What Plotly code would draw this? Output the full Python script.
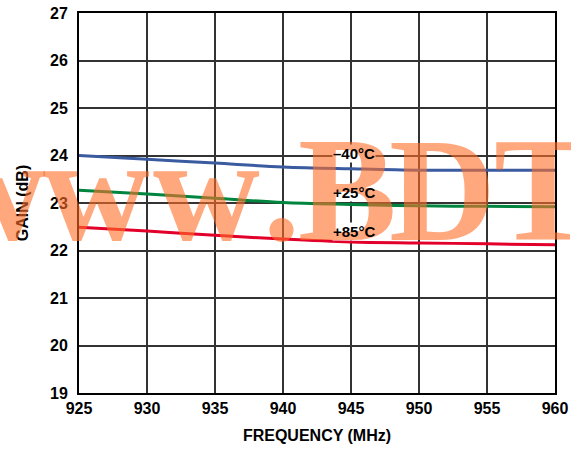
import plotly.graph_objects as go

freq = [925, 930, 935, 940, 945, 950, 955, 960]
gain_m40 = [24.00, 23.92, 23.84, 23.76, 23.72, 23.69, 23.69, 23.69]
gain_p25 = [23.27, 23.19, 23.10, 23.01, 22.97, 22.94, 22.93, 22.92]
gain_p85 = [22.49, 22.41, 22.32, 22.24, 22.18, 22.16, 22.14, 22.12]

series_names = ["\u201340\u00b0C", "+25\u00b0C", "+85\u00b0C"]
series_colors = ["#3A5BA0", "#00853F", "#E2002A"]
label_pos = [(945.2, 24.04), (945.2, 23.22), (945.2, 22.40)]

x_ticks = [925, 930, 935, 940, 945, 950, 955, 960]
y_ticks = [19, 20, 21, 22, 23, 24, 25, 26, 27]

watermark_chars = ["w", "w", "w", ".", "B", "D", "T"]
watermark_left_px = [-62, 42, 152, 262, 297, 388, 493]

PLOT_L, PLOT_W = 79, 476

fig = go.Figure()
for name, ys, col in zip(series_names, [gain_m40, gain_p25, gain_p85], series_colors):
    fig.add_trace(go.Scatter(x=freq, y=ys, mode="lines", name=name,
                             line=dict(color=col, width=3, shape="spline"),
                             showlegend=False))

SANS = "Liberation Sans, Arial"
font_tick = dict(family=SANS, size=16, color="black")
font_lab = dict(family=SANS, size=15, color="black")

annotations = []
# white backgrounds for labels (under watermark)
for name, (lx, ly) in zip(series_names, label_pos):
    annotations.append(dict(x=lx, y=ly, xref="x", yref="y", text="<b>" + name + "</b>",
                            showarrow=False, font=dict(family=SANS, size=15, color="rgba(0,0,0,0)"),
                            bgcolor="white", borderpad=0))
# watermark
for ch, px in zip(watermark_chars, watermark_left_px):
    annotations.append(dict(x=(px - PLOT_L) / PLOT_W, y=0.535, xref="paper", yref="paper",
                            xanchor="left", yanchor="middle",
                            text="<b>" + ch + "</b>", showarrow=False, borderpad=0,
                            font=dict(family="Liberation Serif, Times New Roman", size=148,
                                      color="rgba(255,110,40,0.6)")))
# label text on top
for name, (lx, ly) in zip(series_names, label_pos):
    annotations.append(dict(x=lx, y=ly, xref="x", yref="y", text="<b>" + name + "</b>",
                            showarrow=False, font=font_lab, borderpad=0))

fig.update_layout(
    width=571, height=451,
    margin=dict(l=79, r=16, t=13, b=58),
    paper_bgcolor="white", plot_bgcolor="white",
    annotations=annotations,
    xaxis=dict(range=[925, 960], tickvals=x_ticks, ticktext=["<b>%d</b>" % v for v in x_ticks],
               showgrid=True, gridcolor="#333333", gridwidth=1.5,
               showline=True, linecolor="black", linewidth=2, mirror=True,
               zeroline=False, ticks="", tickfont=font_tick, automargin=False,
               ticklabelstandoff=0,
               title=dict(text="<b>FREQUENCY (MHz)</b>", font=dict(family=SANS, size=16, color="black"), standoff=14)),
    yaxis=dict(range=[19, 27], tickvals=y_ticks, ticktext=["<b>%d</b>" % v for v in y_ticks],
               showgrid=True, gridcolor="#333333", gridwidth=1.5,
               showline=True, linecolor="black", linewidth=2, mirror=True,
               zeroline=False, ticks="", tickfont=font_tick, automargin=False,
               ticklabelstandoff=6,
               title=dict(text="<b>GAIN (dB)</b>", font=dict(family=SANS, size=16, color="black"), standoff=17)),
)

fig.write_html("out.html", config={"displayModeBar": False},
               post_script="document.body.style.margin='0';document.body.style.padding='0';")
